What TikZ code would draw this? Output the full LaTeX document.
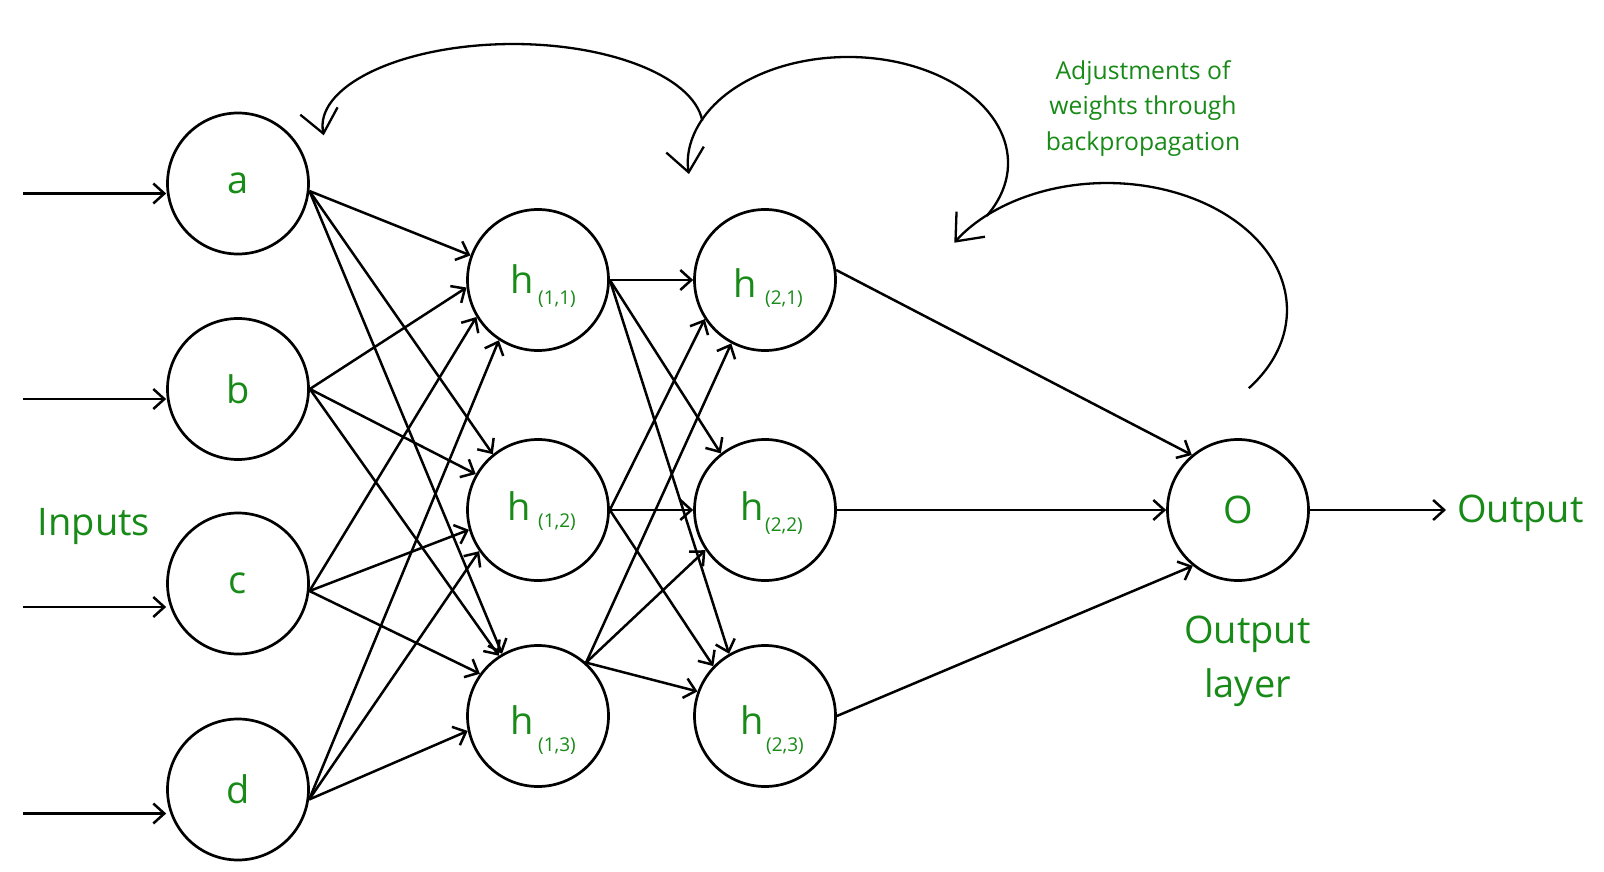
\documentclass[tikz,border=0pt]{standalone}
\usepackage{fontspec}
\setmainfont{Open Sans}
\usetikzlibrary{arrows.meta}
\definecolor{tgreen}{RGB}{24,138,24}
\tikzset{
  neuron/.style={circle, draw=black, line width=2.7pt, minimum size=141pt, inner sep=0pt,
    text=tgreen, font=\fontsize{38}{40}\selectfont},
  edge/.style={line width=2.5pt, -{Straight Barb[length=11pt,width=20pt]}},
  back/.style={line width=2.3pt, -{Straight Barb[length=23pt,width=38pt]}},
  bigtxt/.style={text=tgreen, inner sep=0pt, font=\fontsize{38}{54}\selectfont},
  hlbl/.style={text=tgreen, inner sep=0pt, anchor=base west, font=\fontsize{38}{40}\selectfont},
  slbl/.style={text=tgreen, inner sep=0pt, anchor=base west, font=\fontsize{19}{22}\selectfont},
  note/.style={text=tgreen, inner sep=0pt, align=center, font=\fontsize{24.7}{35.4}\selectfont},
}
\begin{document}
\begin{tikzpicture}[x=1pt,y=1pt]
\fill[white] (0,0) rectangle (1604,-872);
\path[use as bounding box] (0,0) rectangle (1604,-872);

% input layer
\node[neuron] (a) at (238,-183.5) {a};
\node[neuron] (b) at (238,-389) {b};
\node[neuron] (c) at (238,-583.5) {c};
\node[neuron] (d) at (238,-789.5) {d};
% hidden layer 1
\node[neuron] (h11) at (538,-280) {};
\node[neuron] (h12) at (538,-510) {};
\node[neuron] (h13) at (538,-716) {};
% hidden layer 2
\node[neuron] (h21) at (765,-280) {};
\node[neuron] (h22) at (765,-510) {};
\node[neuron] (h23) at (765,-716) {};
% output
\node[neuron] (O) at (1238,-510) {O};

% hidden labels
\node[hlbl] (h11h) at (510,-293) {h};
\node[slbl] (h11s) at (538,-304) {(1,1)};
\node[hlbl] (h12h) at (507.5,-520) {h};
\node[slbl] (h12s) at (538,-527) {(1,2)};
\node[hlbl] (h13h) at (510,-734) {h};
\node[slbl] (h13s) at (538,-751) {(1,3)};
\node[hlbl] (h21h) at (733.5,-297) {h};
\node[slbl] (h21s) at (765,-304) {(2,1)};
\node[hlbl] (h22h) at (740,-520) {h};
\node[slbl] (h22s) at (765,-531) {(2,2)};
\node[hlbl] (h23h) at (740,-734) {h};
\node[slbl] (h23s) at (766,-751) {(2,3)};

% texts
\node[bigtxt, anchor=base] (inputs) at (94,-535) {Inputs};
\node[bigtxt, anchor=base] (outtxt) at (1520.5,-522) {Output};
\node[bigtxt, anchor=base] (ol1) at (1247.5,-643) {Output};
\node[bigtxt, anchor=base] (ol2) at (1247.5,-697) {layer};
\node[note] (adj) at (1143,-108.2) {Adjustments of\\weights through\\backpropagation};

% input arrows
\coordinate (ina) at (23,-193.5);
\coordinate (inb) at (23,-399);
\coordinate (inc) at (23,-607);
\coordinate (ind) at (23,-813.5);
\draw[edge] (ina) -- (ina -| a.west);
\draw[edge] (inb) -- (inb -| b.west);
\draw[edge] (inc) -- (inc -| c.west);
\draw[edge] (ind) -- (ind -| d.west);

% layer 1 connections
\draw[edge] (a.-6.5) -- (h11.160);
\draw[edge] (a.-6.5) -- (h12.129);
\draw[edge] (a.-6.5) -- (h13.120);
\draw[edge] (b.east) -- (h11.186);
\draw[edge] (b.east) -- (h12.150);
\draw[edge] (b.east) -- (h13.123);
\draw[edge] (c.-6.5) -- (h11.211);
\draw[edge] (c.-6.5) -- (h12.196);
\draw[edge] (c.-6.5) -- (h13.144);
\draw[edge] (d.-8.5) -- (h11.237);
\draw[edge] (d.-8.5) -- (h12.215);
\draw[edge] (d.-8.5) -- (h13.192);

% layer 2 connections
\draw[edge] (h11.east) -- (h21.180);
\draw[edge] (h11.east) -- (h22.128);
\draw[edge] (h11.east) -- (h23.120);
\draw[edge] (h12.east) -- (h21.213);
\draw[edge] (h12.east) -- (h22.180);
\draw[edge] (h12.east) -- (h23.136);
\draw[edge] (h13.48) -- (h21.242);
\draw[edge] (h13.48) -- (h22.214);
\draw[edge] (h13.48) -- (h23.160);

% to output
\draw[edge] (h21.8) -- (O.130);
\draw[edge] (h22.east) -- (O.180);
\draw[edge] (h23.east) -- (O.231);
\coordinate (outend) at (1446,-510);
\draw[edge] (O.east) -- (outend);

% backpropagation arcs
\coordinate (s3) at (1248.8,-388.2);
\coordinate (s2) at (986.6,-216);
\coordinate (s1) at (702.3,-120.7);
\draw[back] (s3) arc[start angle=-38, end angle=148, x radius=180, y radius=127];
\draw[back] (s2) arc[start angle=-30, end angle=186, x radius=160, y radius=106];
\draw[back] (s1) arc[start angle=5, end angle=185, x radius=190, y radius=84];
\end{tikzpicture}
\end{document}
